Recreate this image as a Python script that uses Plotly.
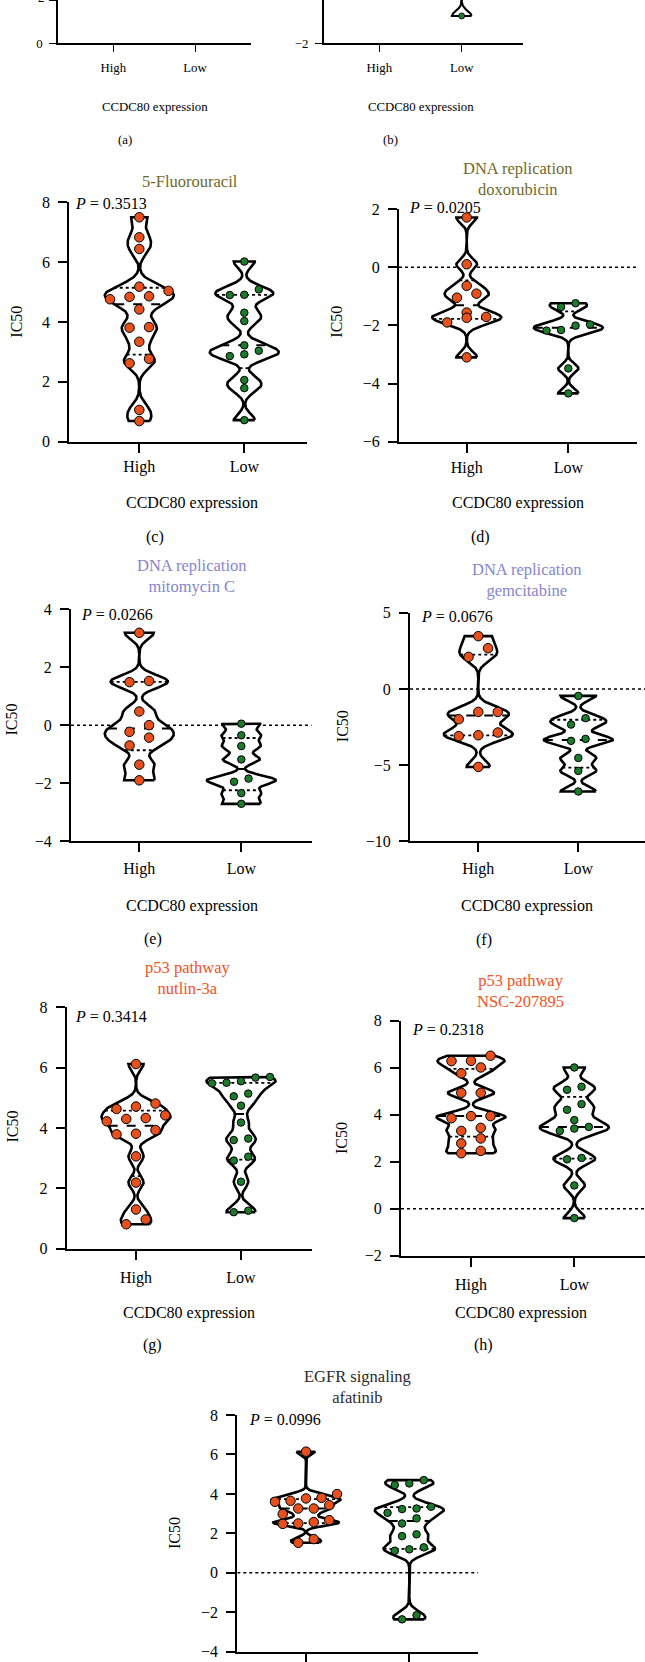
import numpy as np
import plotly.graph_objects as go

FIG_W, FIG_H = 645, 1662
FONT = "Liberation Serif"

# ---------------- data ----------------
groups = ["High", "Low"]
x_title = "CCDC80 expression"
y_title = "IC50"
panel_tags = ["(a)", "(b)", "(c)", "(d)", "(e)", "(f)", "(g)", "(h)"]

titles = ["5-Fluorouracil", "DNA replication<br>doxorubicin", "DNA replication<br>mitomycin C",
          "DNA replication<br>gemcitabine", "p53 pathway<br>nutlin-3a", "p53 pathway<br>NSC-207895",
          "EGFR signaling<br>afatinib"]
p_values = ["0.3513", "0.0205", "0.0266", "0.0676", "0.3414", "0.2318", "0.0996"]

# panel (b): only the lowest point is inside the cropped picture; the upper values are approximate
b_low = [-0.80, 1.00, 1.10, 1.20, 2.50, 3.00]
c_high = [7.50, 6.83, 6.44, 5.18, 5.04, 4.76, 4.84, 4.86, 4.42, 3.83, 3.81, 3.34, 2.62, 2.77, 1.06, 0.69]
c_low = [6.02, 4.90, 4.91, 5.09, 4.31, 4.03, 3.22, 2.92, 2.86, 3.04, 2.06, 1.79, 0.72]
d_high = [1.71, 0.10, -0.64, -0.91, -1.05, -1.71, -1.56, -1.74, -1.90, -3.10]
d_low = [-1.24, -1.37, -1.97, -2.01, -2.16, -2.18, -3.48, -4.34]
e_high = [3.18, 1.48, 1.52, 0.47, 0.00, -0.23, -0.43, -0.70, -1.36, -1.90]
e_low = [0.05, -0.35, -0.72, -1.18, -1.84, -1.95, -2.34, -2.71]
f_high = [3.46, 2.67, 2.10, -1.51, -1.51, -1.99, -2.86, -3.10, -3.04, -5.12]
f_low = [-0.46, -1.92, -2.34, -3.28, -3.41, -4.53, -5.38, -6.73]
g_high = [6.12, 4.81, 4.71, 4.63, 4.33, 4.42, 4.30, 4.22, 3.81, 3.93, 3.79, 3.06, 2.19, 1.30, 0.97, 0.81]
g_low = [5.55, 5.48, 5.50, 5.67, 5.69, 5.05, 5.14, 4.74, 4.18, 3.60, 3.65, 3.05, 2.92, 2.22, 1.21, 1.26]
h_high = [6.51, 6.29, 6.28, 6.01, 5.76, 4.93, 4.93, 3.94, 3.94, 3.85, 3.44, 3.31, 2.99, 2.78, 2.46, 2.36]
h_low = [6.01, 5.19, 5.06, 4.45, 4.21, 3.77, 3.48, 3.31, 3.41, 2.10, 2.16, 0.99, -0.40]
i_high = [6.14, 3.99, 3.60, 3.65, 3.77, 3.80, 3.43, 3.26, 3.26, 2.98, 2.50, 2.48, 2.57, 2.67, 1.52, 1.71]
i_low = [4.53, 4.45, 4.70, 3.26, 3.35, 3.23, 3.04, 2.76, 2.50, 1.86, 1.95, 1.29, 1.12, 1.19, -2.36, -2.15]

panel_data = {
    "a": {},
    "b": {"Low": b_low},
    "c": {"High": c_high, "Low": c_low},
    "d": {"High": d_high, "Low": d_low},
    "e": {"High": e_high, "Low": e_low},
    "f": {"High": f_high, "Low": f_low},
    "g": {"High": g_high, "Low": g_low},
    "h": {"High": h_high, "Low": h_low},
    "i": {"High": i_high, "Low": i_low},
}

# ---------------- layout geometry (pixels) ----------------
geom = {
    "a": dict(xl=58.3, xe=251.0, xh=113.3, xo=195.0, yt=0.0, vt=2, yb=43.3, vb=0, dt=2, s=0.8, so=4),
    "b": dict(xl=324.0, xe=523.0, xh=379.3, xo=461.7, yt=0.0, vt=-0.1, yb=43.3, vb=-2, dt=2, s=0.8, so=4),
    "c": dict(xl=69.3, xe=306.7, xh=139.3, xo=244.3, yt=202.3, vt=8, yb=441.7, vb=0, dt=2, s=1, so=0),
    "d": dict(xl=399.0, xe=637.0, xh=466.7, xo=568.3, yt=209.0, vt=2, yb=441.7, vb=-6, dt=2, s=1, so=1),
    "e": dict(xl=71.0, xe=311.7, xh=139.3, xo=241.3, yt=609.0, vt=4, yb=841.3, vb=-4, dt=2, s=1, so=2),
    "f": dict(xl=410.0, xe=645.0, xh=478.3, xo=578.3, yt=612.7, vt=5, yb=841.3, vb=-10, dt=5, s=1, so=2),
    "g": dict(xl=66.7, xe=311.7, xh=136.0, xo=241.0, yt=1007.3, vt=8, yb=1248.7, vb=0, dt=2, s=1, so=4),
    "h": dict(xl=401.0, xe=645.0, xh=471.0, xo=574.3, yt=1020.7, vt=8, yb=1255.7, vb=-2, dt=2, s=1, so=4),
    # panel (i): the x tick labels lie below the cropped bottom edge in the original
    "i": dict(xl=237.3, xe=478.3, xh=306.0, xo=409.3, yt=1415.0, vt=8, yb=1651.7, vb=-4, dt=2, s=1, so=14),
}
zero_line_panels = ["d", "e", "f", "h", "i"]
hidden_xlabels = ["i"]

title_pos = {"c": (190, 181.7), "d": (518, 179.3), "e": (191.7, 576.3), "f": (526.7, 580),
             "g": (187.7, 978.3), "h": (520.8, 991.2), "i": (357, 1387)}
title_colors = {"c": "#6f6a2c", "d": "#6f6a2c", "e": "#8686cc", "f": "#8686cc",
                "g": "#ef5424", "h": "#ef5424", "i": "#2a2a2a"}
p_pos = {"c": (73.3, 203), "d": (407, 207.7), "e": (79, 614), "f": (419, 616.7),
         "g": (72.7, 1016.7), "h": (410, 1029), "i": (247, 1419)}
ic50_pos = {"c": (17, 321.7), "d": (337, 321.7), "e": (11.5, 720), "f": (342.5, 726.7),
            "g": (11.5, 1127), "h": (341, 1138), "i": (174, 1533)}
xt_pos = {"a": (154.7, 107.3), "b": (420.8, 107.3), "c": (191.7, 503), "d": (518, 503),
          "e": (191.7, 906), "f": (527, 906), "g": (189, 1313.3), "h": (521.3, 1313.3)}
tag_pos = {"a": (125, 140), "b": (390.7, 140), "c": (155, 536.7), "d": (480, 536.7),
           "e": (152.7, 939.3), "f": (484.3, 940), "g": (152, 1345), "h": (483.3, 1345)}
# the "2" tick label of panel (a) sits on the cropped top edge
cut_tick_label = ("2", 41.0, -2.5)

HIGH_COLOR = "#e5501c"
LOW_COLOR = "#1c7a2c"
VIOLIN_HALF_PX = 34.5
BW_FACTOR = 0.22


def px(x):
    return x / FIG_W


def py(y):
    return 1 - y / FIG_H


def kde(vals, bw, n=400):
    v = np.asarray(vals, float)
    ys = np.linspace(v.min(), v.max(), n)
    d = np.exp(-0.5 * ((ys[:, None] - v[None, :]) / bw) ** 2).sum(axis=1)
    return ys, d / d.max()


def swarm(vals, row_h, spacing, max_span):
    v = np.asarray(vals, float)
    order = np.argsort(v, kind="stable")
    rows, cur = [], [order[0]]
    for idx in order[1:]:
        if v[idx] - v[cur[0]] < row_h:
            cur.append(idx)
        else:
            rows.append(cur)
            cur = [idx]
    rows.append(cur)
    nmax = max(len(r) for r in rows)
    sp = spacing if nmax < 2 else min(spacing, max_span / (nmax - 1))
    offs = np.zeros(len(v))
    for r in rows:
        k = len(r)
        for j, idx in enumerate(r):
            offs[idx] = (j - (k - 1) / 2) * sp
    return offs


fig = go.Figure()
layout = {}
annotations = []
shapes = []

for k, (key, g) in enumerate(geom.items(), start=1):
    s = g["s"]
    xa = "x" if k == 1 else f"x{k}"
    ya = "y" if k == 1 else f"y{k}"
    pxu_x = g["xo"] - g["xh"]
    pxu_y = (g["yb"] - g["yt"]) / (g["vt"] - g["vb"])
    xr = [(g["xl"] - g["xh"]) / pxu_x, (g["xe"] - g["xh"]) / pxu_x]
    fs = 16 * s
    layout["xaxis" if k == 1 else f"xaxis{k}"] = dict(
        domain=[px(g["xl"]), px(g["xe"])], range=xr, anchor=ya, automargin=False,
        tickmode="array", tickvals=[0, 1], ticktext=groups,
        showticklabels=key not in hidden_xlabels,
        showline=True, linecolor="black", linewidth=2 * s, ticks="outside",
        ticklen=9 * s, tickwidth=1.8 * s, tickcolor="black", showgrid=False, zeroline=False,
        tickfont=dict(family=FONT, size=fs, color="black"), ticklabelstandoff=int(g["so"]),
        fixedrange=True)
    layout["yaxis" if k == 1 else f"yaxis{k}"] = dict(
        domain=[py(g["yb"]), py(g["yt"])], range=[g["vb"], g["vt"]], anchor=xa, automargin=False,
        tickmode="linear", tick0=0, dtick=g["dt"],
        showline=True, linecolor="black", linewidth=2 * s, ticks="outside",
        ticklen=9 * s, tickwidth=1.8 * s, tickcolor="black", showgrid=False, zeroline=False,
        tickfont=dict(family=FONT, size=fs, color="black"), ticklabelstandoff=int(round(5 * s)),
        fixedrange=True)

    # an empty trace makes sure every subplot (also the cropped panel a) is drawn
    fig.add_trace(go.Scatter(x=[None], y=[None], xaxis=xa, yaxis=ya, mode="markers",
                             hoverinfo="skip", showlegend=False))

    if key in zero_line_panels:
        shapes.append(dict(type="line", xref=xa, yref=ya, x0=xr[0], x1=xr[1], y0=0, y1=0,
                           line=dict(color="black", width=1.5, dash="dot"), layer="below"))

    for gi, grp in enumerate(groups):
        if grp not in panel_data[key]:
            continue
        vals = np.asarray(panel_data[key][grp], float)
        n = len(vals)
        sd = vals.std(ddof=1)
        bw = BW_FACTOR * 1.06 * sd * n ** (-0.2)
        ys, dens = kde(vals, bw)
        half = VIOLIN_HALF_PX * s / pxu_x * dens
        vx = np.concatenate([gi + half, (gi - half)[::-1], [gi + half[0]]])
        vy = np.concatenate([ys, ys[::-1], [ys[0]]])
        fig.add_trace(go.Scatter(x=vx, y=vy, xaxis=xa, yaxis=ya, mode="lines", fill="toself",
                                 fillcolor="white", line=dict(color="black", width=2.6 * s),
                                 hoverinfo="skip", showlegend=False))
        q1, med, q3 = np.percentile(vals, [25, 50, 75], method="weibull")
        for q, dash, w in [(q1, "dot", 1.8), (q3, "dot", 1.8), (med, "dash", 2.0)]:
            if q < g["vb"] or q > g["vt"]:
                continue
            hw = np.interp(q, ys, half)
            fig.add_trace(go.Scatter(x=[gi - hw, gi + hw], y=[q, q], xaxis=xa, yaxis=ya, mode="lines",
                                     line=dict(color="black", width=w * s, dash=dash),
                                     hoverinfo="skip", showlegend=False))
        dot = (9.5 if grp == "High" else 7.5) * s
        spacing = (19.5 if grp == "High" else 14.5) * s
        offs = swarm(vals, dot / pxu_y, spacing, 62 * s) / pxu_x
        fig.add_trace(go.Scatter(x=gi + offs, y=vals, xaxis=xa, yaxis=ya, mode="markers",
                                 marker=dict(size=dot, color=HIGH_COLOR if grp == "High" else LOW_COLOR,
                                             line=dict(color="black", width=1.0 * s)),
                                 cliponaxis=True, hoverinfo="skip", showlegend=False))

    if key in xt_pos:
        x0, y0 = xt_pos[key]
        annotations.append(dict(text=x_title, x=px(x0), y=py(y0), xref="paper", yref="paper",
                                xanchor="center", yanchor="middle", showarrow=False,
                                font=dict(family=FONT, size=fs, color="black")))
    if key in tag_pos:
        x0, y0 = tag_pos[key]
        annotations.append(dict(text=panel_tags[k - 1], x=px(x0), y=py(y0), xref="paper", yref="paper",
                                xanchor="center", yanchor="middle", showarrow=False,
                                font=dict(family=FONT, size=fs, color="black")))

lbl, lx, ly = cut_tick_label
annotations.append(dict(text=lbl, x=px(lx), y=py(ly), xref="paper", yref="paper",
                        xanchor="center", yanchor="middle", showarrow=False,
                        font=dict(family=FONT, size=12.8, color="black")))

panel_keys_main = ["c", "d", "e", "f", "g", "h", "i"]
for j, key in enumerate(panel_keys_main):
    x0, y0 = title_pos[key]
    annotations.append(dict(text=titles[j], x=px(x0), y=py(y0), xref="paper", yref="paper",
                            xanchor="center", yanchor="middle", showarrow=False,
                            font=dict(family=FONT, size=16.5, color=title_colors[key])))
    x0, y0 = p_pos[key]
    annotations.append(dict(text=f"<i>P</i> = {p_values[j]}", x=px(x0), y=py(y0), xref="paper",
                            yref="paper", xanchor="left", yanchor="middle", showarrow=False,
                            font=dict(family=FONT, size=16, color="black")))
    x0, y0 = ic50_pos[key]
    annotations.append(dict(text=y_title, x=px(x0), y=py(y0), xref="paper", yref="paper",
                            xanchor="center", yanchor="middle", showarrow=False, textangle=-90,
                            font=dict(family=FONT, size=16, color="black")))

fig.update_layout(width=FIG_W, height=FIG_H, margin=dict(l=0, r=0, t=0, b=0, autoexpand=False),
                  paper_bgcolor="white", plot_bgcolor="white", showlegend=False,
                  annotations=annotations, shapes=shapes, **layout)

fig.write_html("out.html", config={"displayModeBar": False},
               post_script="document.body.style.margin='0px';document.body.style.padding='0px';")
